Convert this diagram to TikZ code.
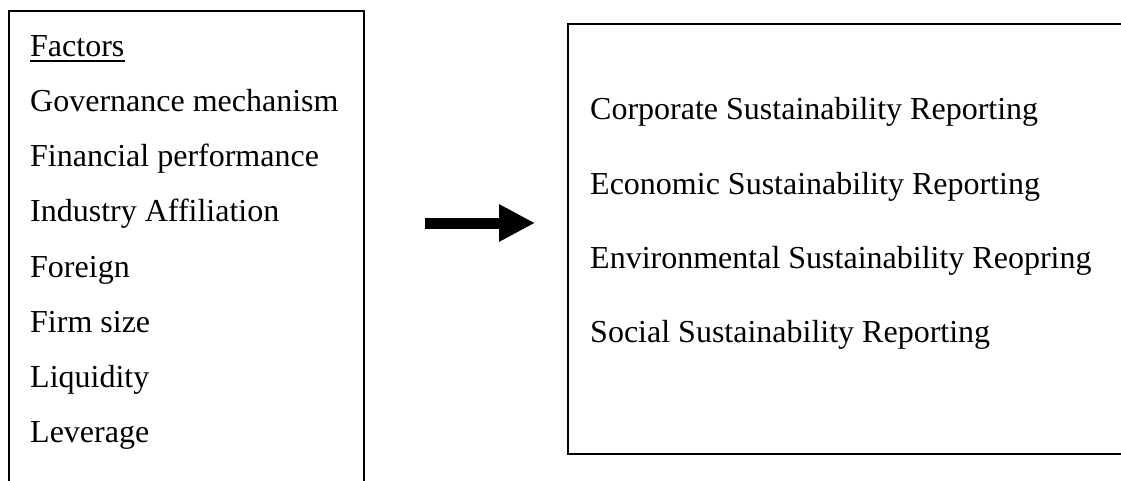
\documentclass[tikz,border=0pt]{standalone}
\usepackage{fontspec}
\setmainfont{Liberation Serif}
\usetikzlibrary{arrows.meta}
\begin{document}
\begin{tikzpicture}[x=1pt,y=-1pt,line join=miter]
 \tikzset{item/.style={anchor=base west,inner sep=0pt,font=\fontsize{32}{38}\selectfont},
 frame/.style={line width=2pt}
 }
 \useasboundingbox (0,0) rectangle (1121,481);
 % left box, runs off the bottom
 \draw[frame] (9,481)|-(364,11)--(364,481);
 % right box, runs off the right side
 \draw[frame] (1121,24)-|(568,454)--(1121,454);
 % list of factors
 \node[item] (factors) at (30,57) {Factors};
 \draw[line width=1.4pt] ([yshift=-4pt]factors.base west)--([yshift=-4pt]factors.base east);
 \foreach \t [count=\i] in {Governance mechanism,Financial performance,Industry Affiliation,
  Foreign,Firm size,Liquidity,Leverage}
  \node[item] (fac\i) at (30,{57+55*\i}) {\t};
 % reporting outcomes
 \foreach \t [count=\i] in {Corporate Sustainability Reporting,Economic Sustainability Reporting,
  Environmental Sustainability Reopring,Social Sustainability Reporting}
  \node[item] (rep\i) at (590,{46+74*\i}) {\t};
 % thick arrow in between
 \coordinate (tail) at (425,223);
 \coordinate (tip) at (535,223);
 \draw[line width=11pt,-{Triangle[length=36pt,width=35pt]}] (tail)--(tip);
\end{tikzpicture}
\end{document}
